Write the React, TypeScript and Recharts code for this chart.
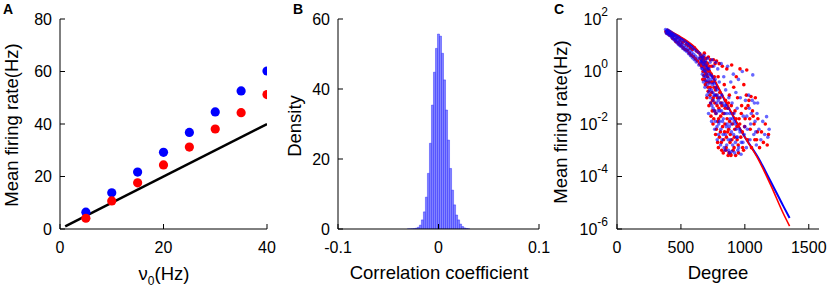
import React from "react";
import { ComposedChart, Scatter, Line, Bar, XAxis, YAxis } from "recharts";

const FONT = "'Liberation Sans', Arial, Helvetica, sans-serif";

// ---- panel A: mean firing rate vs external drive
const nuA = [5, 10, 15, 20, 25, 30, 35, 40];
const blueRateA = [6.4, 13.8, 21.7, 29.2, 36.8, 44.6, 52.6, 60.2];
const redRateA = [4.1, 10.7, 17.6, 24.4, 31.2, 38.1, 44.3, 51.2];
const diagX = [1, 40];
const diagY = [1, 40];

// ---- panel B: histogram of correlation coefficients
const corrBins = [
  -0.03, -0.028, -0.026, -0.024, -0.022, -0.02, -0.018, -0.016, -0.014, -0.012, -0.01,
  -0.008, -0.006, -0.004, -0.002, 0, 0.002, 0.004, 0.006, 0.008, 0.01, 0.012, 0.014,
  0.016, 0.018, 0.02, 0.022, 0.024, 0.026, 0.028, 0.03,
];
const corrDensity = [
  0.02, 0.03, 0.06, 0.12, 0.25, 0.5, 1.1, 2.6, 4.9, 9.1, 15.9, 24.5, 35.4, 44.8, 51.6,
  55.7, 55.1, 50.2, 42.6, 34.0, 25.4, 17.3, 11.1, 6.9, 4.0, 2.6, 1.4, 0.7, 0.3, 0.15, 0.05,
];

// ---- panel C: rate vs degree, [degree, log10 rate]
const blueCloud: [number, number][] = [
  [380, 1.6], [384, 1.48], [388, 1.55], [392, 1.44], [396, 1.58], [400, 1.5], [404, 1.4],
  [408, 1.54], [412, 1.45], [416, 1.36], [420, 1.5], [424, 1.4], [428, 1.3], [432, 1.46],
  [436, 1.36], [440, 1.24], [444, 1.42], [448, 1.3], [452, 1.18], [456, 1.38], [460, 1.25],
  [464, 1.12], [468, 1.34], [472, 1.2], [476, 1.06], [480, 1.3], [484, 1.15], [488, 1.0],
  [492, 1.26], [496, 1.1], [500, 0.95], [505, 1.22], [510, 1.05], [515, 0.88], [520, 1.18],
  [525, 0.98], [530, 0.82], [535, 1.12], [540, 0.92], [545, 0.76], [550, 1.06], [555, 0.86],
  [560, 0.68], [565, 1.0], [570, 0.8], [575, 0.6], [580, 0.94], [585, 0.72], [590, 0.52],
  [595, 0.88], [600, 0.66], [605, 0.45], [610, 0.82], [615, 0.58], [620, 0.36], [628, 0.75],
  [634, 0.5], [640, 0.25], [648, 0.68], [655, 0.4], [662, 0.12],
  [665, 0.55], [668, -0.1], [672, 0.3], [676, -0.4], [680, 0.62], [684, 0.05], [688, -0.6],
  [692, 0.4], [696, -0.2], [700, 0.15], [704, -0.9], [708, 0.5], [712, -0.35], [716, -1.6],
  [720, 0.1], [724, -0.7], [728, 0.35], [732, -1.2], [736, -0.15], [740, -1.9], [744, 0.45],
  [748, -0.5], [752, -1.4], [756, 0.2], [760, -0.9], [764, -2.2], [768, -0.3], [772, 0.35],
  [776, -1.6], [780, -0.7], [784, -2.6], [788, 0.1], [792, -1.1], [796, -2.0], [800, -0.4],
  [805, -1.5], [810, -2.8], [815, 0.3], [820, -0.9], [825, -1.9], [830, -2.4], [835, -0.2],
  [840, -1.3], [845, -3.0], [850, -0.7], [855, -2.1], [860, -1.6], [865, 0.2], [870, -2.6],
  [875, -1.0], [880, -3.1], [885, -1.8], [890, -0.4], [895, -2.3], [900, -1.2], [905, -2.8],
  [910, -0.1], [915, -1.6], [920, -3.1], [925, -2.0], [930, -0.8], [935, -2.5], [940, -1.4],
  [945, -3.0], [950, -0.3], [958, -2.2], [965, -1.0], [972, -2.7], [980, 0.0], [988, -1.7],
  [995, -2.4], [1005, -1.1], [1012, -2.9], [1020, -2.2], [1030, -0.9], [1040, -2.6],
  [1050, -1.6], [1062, -0.13], [1070, -2.4], [1080, -1.9], [1090, -2.8], [1100, -1.2],
  [1110, -2.2], [1125, -2.6], [1140, -1.9], [1155, -2.4], [1170, -1.72], [1180, -2.5],
  [1190, -2.2],
  [652, 0.55], [658, 0.35], [664, 0.42], [670, 0.1], [674, 0.5], [678, 0.25], [682, -0.2],
  [686, 0.35], [690, 0.0], [694, -0.35], [698, 0.25], [702, -0.1], [706, -0.5], [710, 0.1],
  [714, -0.25], [718, -0.8], [722, -0.1], [726, -0.45], [730, -1.0], [734, -0.3], [738, -0.7],
  [742, -1.3], [746, -0.2], [750, -0.8], [754, -1.1], [758, -0.45], [762, -1.5], [766, -0.9],
  [770, -1.9], [774, -0.6], [778, -1.2], [782, -2.1], [786, -0.9], [790, -1.5], [794, -2.4],
  [798, -1.0], [802, -1.9], [808, -1.2], [812, -2.2], [818, -1.5], [822, -2.6], [828, -1.2],
  [832, -1.8], [838, -2.9], [842, -1.6], [848, -2.4], [852, -1.3], [858, -2.8], [862, -2.0],
  [868, -1.4], [872, -3.0], [878, -2.1], [882, -1.6], [888, -2.6], [892, -2.0], [898, -3.05],
  [902, -1.8], [912, -2.4], [918, -1.9], [926, -2.7], [932, -2.2], [942, -2.5], [952, -2.9],
  [962, -2.3], [970, -3.15], [985, -2.7], [1000, -2.1], [1015, -1.7], [1035, -1.4],
  [1045, -2.0], [1058, -1.1], [1075, -1.2], [1085, -2.3], [1095, -1.6],
];
const redCloud: [number, number][] = [
  [383, 1.52], [390, 1.46], [398, 1.52], [405, 1.43], [412, 1.38], [420, 1.44], [428, 1.34],
  [436, 1.26], [445, 1.36], [452, 1.22], [460, 1.14], [470, 1.28], [478, 1.1], [486, 1.04],
  [494, 1.2], [502, 0.98], [510, 1.1], [518, 0.9], [526, 1.15], [534, 0.84], [542, 1.04],
  [550, 0.8], [558, 0.98], [566, 0.7], [574, 0.9], [582, 0.62], [590, 0.84], [598, 0.56],
  [606, 0.9], [614, 0.48], [622, 0.78], [630, 0.4], [638, 0.72], [646, 0.3], [654, 0.62],
  [662, 0.2],
  [662, 0.6], [667, 0.2], [671, -0.3], [675, 0.45], [679, -0.15], [683, 0.7], [687, 0.1],
  [691, -0.5], [695, 0.5], [699, -0.1], [703, -1.0], [707, 0.3], [711, -0.6], [715, 0.55],
  [719, -1.3], [723, 0.0], [727, -0.9], [731, 0.45], [735, -1.7], [739, -0.4], [743, 0.2],
  [747, -1.1], [751, -2.0], [755, 0.45], [759, -0.6], [763, -1.5], [767, 0.3], [771, -2.4],
  [775, -0.9], [779, 0.4], [783, -1.3], [787, -2.7], [791, -0.2], [795, -1.8], [799, 0.3],
  [804, -0.8], [809, -2.3], [814, -1.2], [819, -3.0], [824, 0.2], [829, -1.6], [834, -2.6],
  [839, -0.5], [844, -2.0], [849, -1.1], [854, -2.9], [859, 0.1], [864, -1.4], [869, -3.2],
  [874, -2.2], [879, -0.9], [884, -2.7], [889, -3.15], [894, -1.3], [897, 0.25], [903, -2.0],
  [908, -3.0], [913, -0.6], [918, -2.5], [923, -1.5], [928, -3.2], [933, -0.2], [938, -2.1],
  [943, -1.0], [948, -2.8], [955, -1.8], [962, 0.1], [968, -2.5], [975, -1.3], [983, -2.9],
  [992, -0.5], [998, -2.1], [1008, -1.4], [1015, 0.06], [1022, -2.6], [1032, -1.1],
  [1042, -2.2], [1052, -2.9], [1060, -1.5], [1072, -2.0], [1082, -1.0], [1092, -2.6],
  [1102, -1.8], [1115, -2.9], [1130, -2.3], [1145, -2.7], [1160, -2.0], [1175, -2.8],
  [1185, -2.4],
  [650, 0.5], [656, 0.25], [661, 0.45], [668, 0.35], [673, 0.0], [677, 0.55], [681, 0.2],
  [685, -0.3], [689, 0.3], [693, -0.05], [697, 0.35], [701, -0.4], [705, 0.05], [709, -0.2],
  [713, -0.75], [717, 0.0], [721, -0.4], [725, 0.2], [729, -0.6], [733, -1.2], [737, -0.1],
  [741, -0.8], [745, -1.5], [749, -0.4], [753, -1.0], [757, -1.8], [761, -0.2], [765, -1.2],
  [769, -0.7], [773, -1.6], [777, -2.2], [781, -0.6], [785, -1.0], [789, -1.9], [793, -2.9],
  [797, -1.4], [801, -2.5], [806, -1.0], [811, -1.7], [816, -2.7], [821, -1.3], [826, -2.1],
  [831, -3.1], [836, -1.6], [841, -2.3], [846, -1.4], [851, -3.0], [856, -2.5], [861, -1.8],
  [866, -2.3], [871, -1.2], [876, -3.1], [881, -1.9], [886, -2.4], [891, -3.2], [899, -2.6],
  [906, -1.6], [916, -2.9], [921, -2.2], [931, -1.8], [940, -2.6], [950, -3.1], [960, -2.0],
  [972, -1.6], [980, -2.3], [990, -3.0], [1002, -1.8], [1012, -0.9], [1025, -1.3],
  [1038, -1.8], [1048, -0.95], [1065, -1.7], [1078, -2.6], [1098, -2.3],
];
const fitDegree = [390, 450, 500, 550, 600, 650, 700, 800, 900, 1000, 1100, 1200, 1300, 1350];
const blueFitLog = [1.6, 1.42, 1.28, 1.12, 0.93, 0.66, 0.22, -0.7, -1.63, -2.5, -3.25, -4.17, -5.12, -5.58];
const redFitLog = [1.62, 1.45, 1.31, 1.16, 0.97, 0.7, 0.27, -0.66, -1.6, -2.5, -3.3, -4.3, -5.4, -5.89];

const scatterA = (ys: number[]) => nuA.map((x, i) => ({ x, y: ys[i] }));
const diagData = diagX.map((x, i) => ({ x, y: diagY[i] }));
const histData = corrBins.map((c, i) => ({ c, d: corrDensity[i] }));
const toXY = (pts: [number, number][]) => pts.map(([x, y]) => ({ x, y }));
const fitData = (ys: number[]) => fitDegree.map((x, i) => ({ x, y: ys[i] }));

const tickStyle = { fontSize: 16, fill: "#000", fontFamily: FONT };
const axisLine = { stroke: "#000", strokeWidth: 1 };
const tickLine = { stroke: "#000", strokeWidth: 1 };

const dot = (r: number, color: string, opacity = 1) => (props: any) =>
  <circle cx={props.cx} cy={props.cy} r={r} fill={color} fillOpacity={opacity} />;

function PowTick(props: any) {
  const { x, y, payload } = props;
  return (
    <text x={x} y={y} textAnchor="end" fontFamily={FONT} fill="#000" fontSize={16}>
      <tspan dy={5.7}>10</tspan>
      <tspan dy={-9} fontSize={12}>{payload.value}</tspan>
    </text>
  );
}

const H = 289;

export default function App() {
  return (
    <div style={{ position: "absolute", left: 0, top: 0, width: 829, height: H, background: "#fff" }}>
      <div style={{ position: "absolute", left: 0, top: 0 }}>
        <ComposedChart width={280} height={H} margin={{ top: 19, right: 13, bottom: 0, left: 0 }}>
          <XAxis type="number" dataKey="x" domain={[0, 40]} ticks={[0, 20, 40]} allowDataOverflow
            height={60} tickSize={-5} tickMargin={18} tick={tickStyle} axisLine={axisLine} tickLine={tickLine} />
          <XAxis xAxisId="t" orientation="top" type="number" domain={[0, 40]} ticks={[0, 20, 40]} allowDataOverflow
            height={0} mirror tickSize={4} tickFormatter={() => ""} axisLine={axisLine} tickLine={tickLine} />
          <YAxis type="number" dataKey="y" domain={[0, 80]} ticks={[0, 20, 40, 60, 80]} allowDataOverflow
            width={60} tickSize={-5} tickMargin={13} tick={tickStyle} axisLine={axisLine} tickLine={tickLine} />
          <YAxis yAxisId="r" orientation="right" type="number" domain={[0, 80]} ticks={[0, 20, 40, 60, 80]} allowDataOverflow
            width={0} mirror tickSize={4} tickFormatter={() => ""} axisLine={axisLine} tickLine={tickLine} />
          <Scatter data={scatterA(blueRateA)} shape={dot(4.6, "#0000ff")} isAnimationActive={false} />
          <Scatter data={scatterA(redRateA)} shape={dot(4.6, "#ff0000")} isAnimationActive={false} />
          <Line data={diagData} dataKey="y" stroke="#000" strokeWidth={2.5} dot={false} isAnimationActive={false} />
        </ComposedChart>
      </div>

      <div style={{ position: "absolute", left: 280, top: 0 }}>
        <ComposedChart width={270} height={H} data={histData} margin={{ top: 19, right: 11, bottom: 0, left: 0 }}
          barCategoryGap={0} barGap={0}>
          <XAxis type="number" dataKey="c" domain={[-0.1, 0.1]} ticks={[-0.1, 0, 0.1]} allowDataOverflow
            height={60} tickSize={-5} tickMargin={18} tick={tickStyle} axisLine={axisLine} tickLine={tickLine} />
          <XAxis xAxisId="t" orientation="top" type="number" domain={[-0.1, 0.1]} ticks={[-0.1, 0, 0.1]} allowDataOverflow
            height={0} mirror tickSize={4} tickFormatter={() => ""} axisLine={axisLine} tickLine={tickLine} />
          <YAxis type="number" domain={[0, 60]} ticks={[0, 20, 40, 60]} allowDataOverflow
            width={58} tickSize={-5} tickMargin={13} tick={tickStyle} axisLine={axisLine} tickLine={tickLine} />
          <YAxis yAxisId="r" orientation="right" type="number" domain={[0, 60]} ticks={[0, 20, 40, 60]} allowDataOverflow
            width={0} mirror tickSize={4} tickFormatter={() => ""} axisLine={axisLine} tickLine={tickLine} />
          <Bar dataKey="d" barSize={2} fill="#8585ff" stroke="#1515ff" strokeWidth={0.4} isAnimationActive={false} />
        </ComposedChart>
      </div>

      <div style={{ position: "absolute", left: 550, top: 0 }}>
        <ComposedChart width={279} height={H} margin={{ top: 19, right: 10, bottom: 0, left: 0 }}>
          <XAxis type="number" dataKey="x" domain={[0, 1580]} ticks={[0, 500, 1000, 1500]} allowDataOverflow
            height={60} tickSize={-5} tickMargin={18} tick={tickStyle} axisLine={axisLine} tickLine={tickLine} />
          <XAxis xAxisId="t" orientation="top" type="number" domain={[0, 1580]} ticks={[0, 500, 1000, 1500]} allowDataOverflow
            height={0} mirror tickSize={4} tickFormatter={() => ""} axisLine={axisLine} tickLine={tickLine} />
          <YAxis type="number" dataKey="y" domain={[-6, 2]} ticks={[-6, -4, -2, 0, 2]} allowDataOverflow
            width={67} tickSize={-5} tickMargin={14} tick={<PowTick />} axisLine={axisLine} tickLine={tickLine} />
          <YAxis yAxisId="r" orientation="right" type="number" domain={[-6, 2]} ticks={[-6, -4, -2, 0, 2]} allowDataOverflow
            width={0} mirror tickSize={4} tickFormatter={() => ""} axisLine={axisLine} tickLine={tickLine} />
          <Scatter data={toXY(redCloud)} shape={dot(1.8, "#ff0000")} isAnimationActive={false} />
          <Scatter data={toXY(blueCloud)} shape={dot(1.8, "#0000ff", 0.6)} isAnimationActive={false} />
          <Line data={fitData(blueFitLog)} dataKey="y" type="monotone" stroke="#0000ff" strokeWidth={2} dot={false} isAnimationActive={false} />
          <Line data={fitData(redFitLog)} dataKey="y" type="monotone" stroke="#ff0000" strokeWidth={1.6} dot={false} isAnimationActive={false} />
        </ComposedChart>
      </div>

      <svg width={829} height={H} style={{ position: "absolute", left: 0, top: 0, pointerEvents: "none" }}
        fontFamily={FONT} fill="#000">
        <text x={3} y={14} fontSize={14} fontWeight="bold">A</text>
        <text x={293} y={14} fontSize={14} fontWeight="bold">B</text>
        <text x={554} y={14} fontSize={14} fontWeight="bold">C</text>

        <text transform="rotate(-90, 18, 125)" x={18} y={125} fontSize={18.5} textAnchor="middle">Mean firing rate(Hz)</text>
        <text transform="rotate(-90, 301, 126)" x={301} y={126} fontSize={18.5} textAnchor="middle">Density</text>
        <text transform="rotate(-90, 567, 122)" x={567} y={122} fontSize={18.5} textAnchor="middle">Mean firing rate(Hz)</text>

        <text x={164} y={280} fontSize={18.5} textAnchor="middle">
          <tspan>ν</tspan>
          <tspan dy={5} fontSize={12}>0</tspan>
          <tspan dy={-5}>(Hz)</tspan>
        </text>
        <text x={439} y={279} fontSize={18.5} textAnchor="middle">Correlation coefficient</text>
        <text x={718} y={279} fontSize={18.5} textAnchor="middle">Degree</text>
      </svg>
    </div>
  );
}
